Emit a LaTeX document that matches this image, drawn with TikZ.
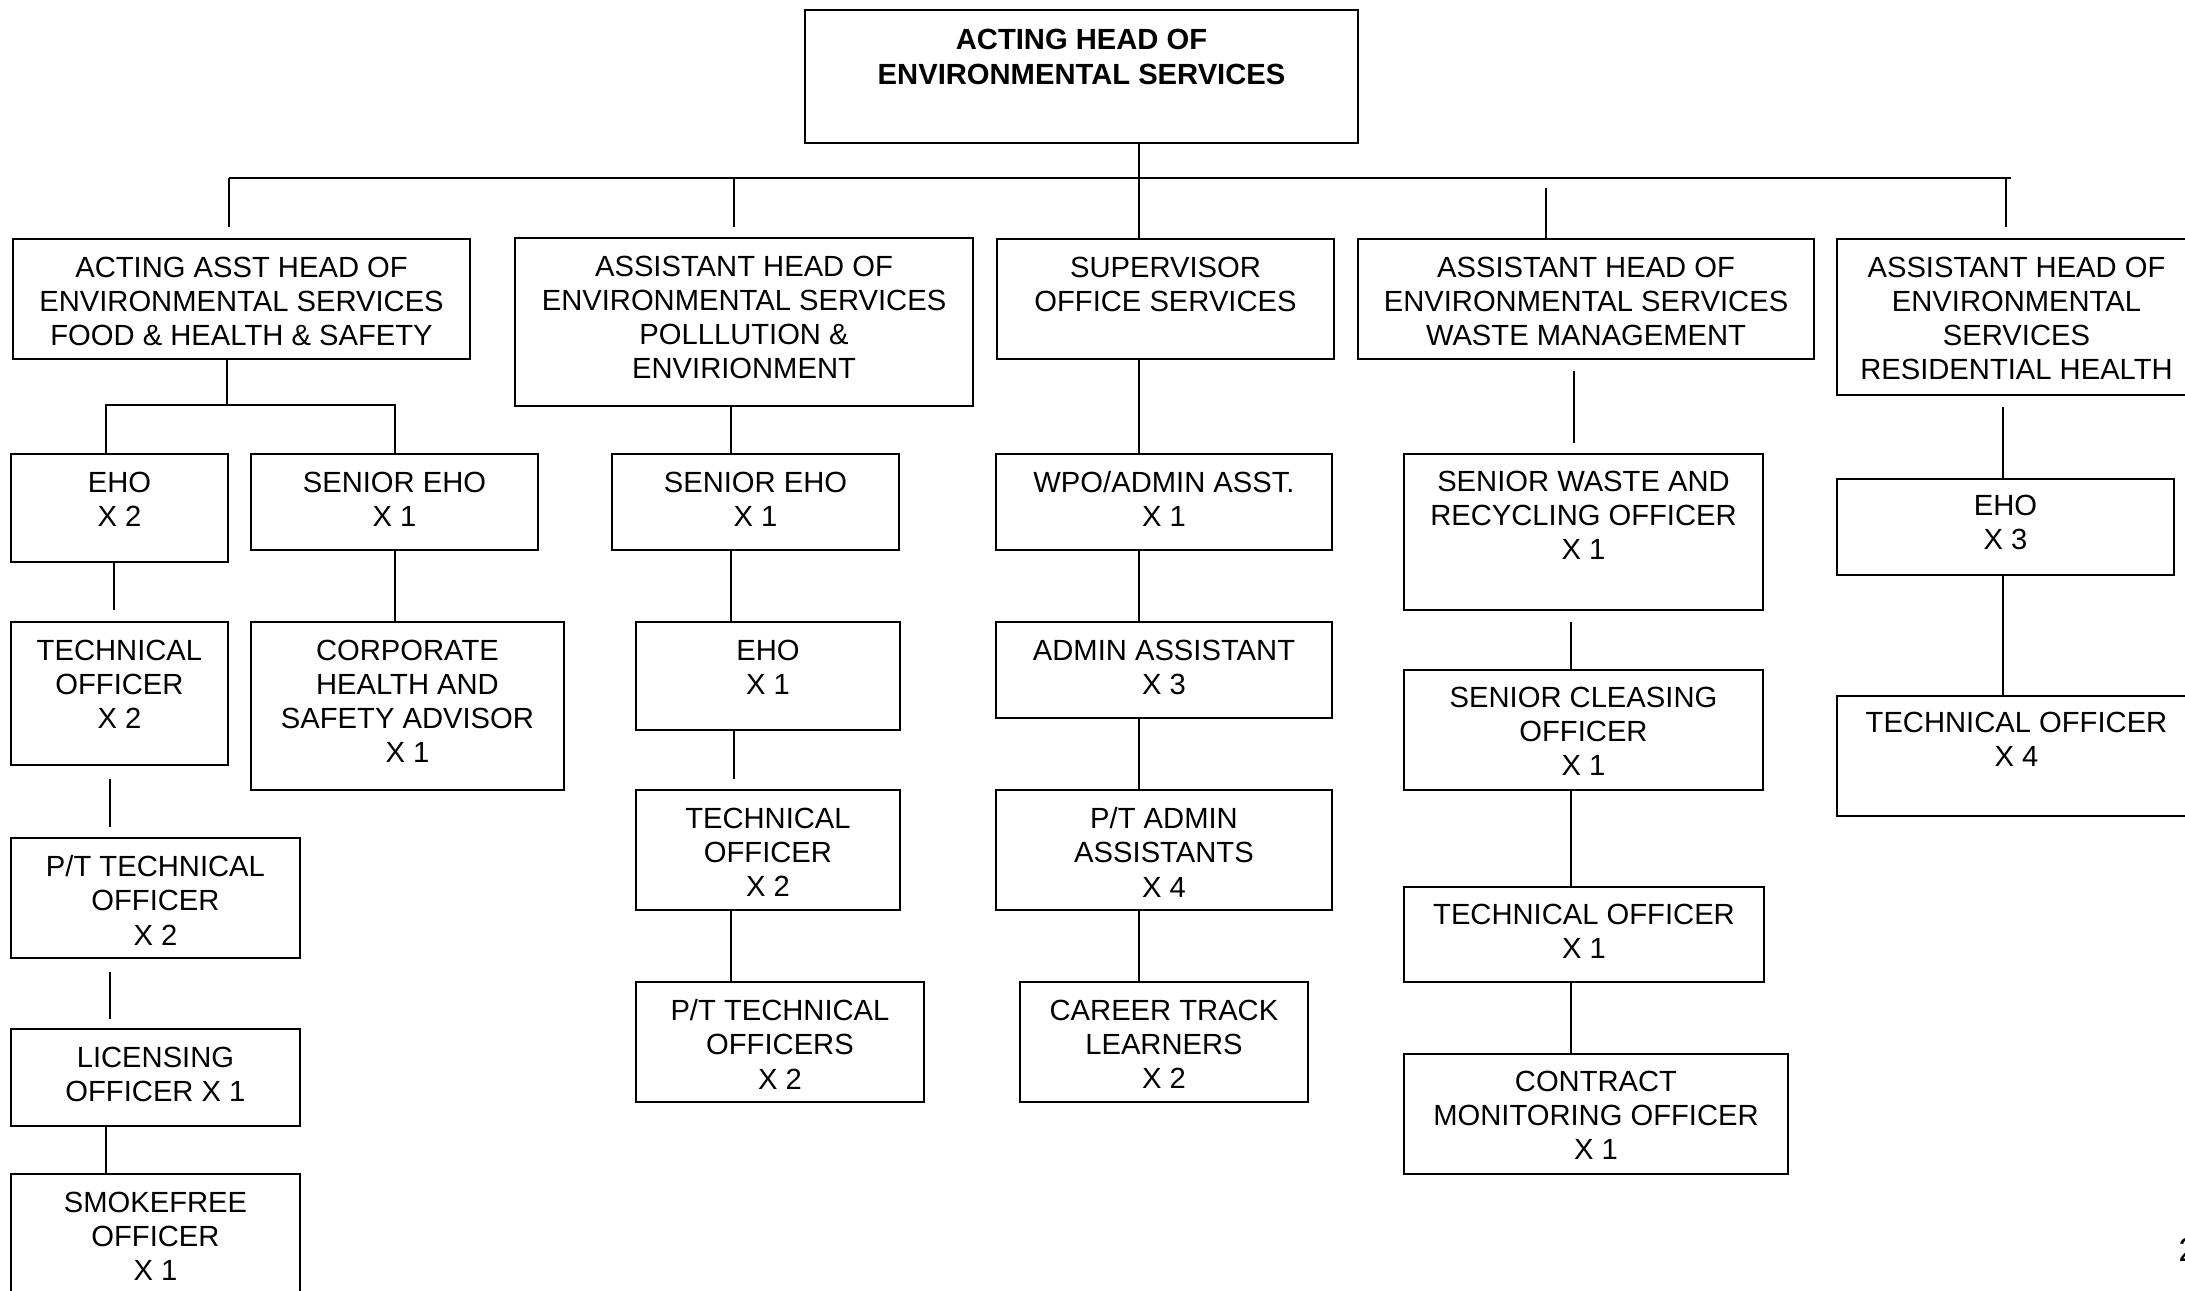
\documentclass[tikz,border=0pt]{standalone}
\usepackage{fontspec}
\setmainfont{Liberation Sans}
\usepackage{xcolor}
\usepackage{tikz}
\usetikzlibrary{positioning}

\begin{document}
\begin{tikzpicture}[x=0.01cm, y=-0.01cm,
    post/.style={draw, rectangle, line width=0.5pt, anchor=north west, inner sep=0pt},
    postname/.style={anchor=north, align=center, inner sep=0pt, font=\fontsize{8.3}{9.7}\selectfont},
    link/.style={line width=0.45pt}]
\useasboundingbox (0,0) rectangle (2185,1290);

% head and the five sections
\node[post, minimum width=5.53cm, minimum height=1.33cm] (top) at (804,9) {};
\node[post, minimum width=4.57cm, minimum height=1.20cm] (a) at (12,238) {};
\node[post, minimum width=4.58cm, minimum height=1.68cm] (b) at (514,237) {};
\node[post, minimum width=3.37cm, minimum height=1.20cm] (c) at (996,238) {};
\node[post, minimum width=4.56cm, minimum height=1.20cm] (d) at (1357,238) {};
\node[post, minimum width=3.59cm, minimum height=1.56cm] (e) at (1836,238) {};

\node[postname, font=\fontsize{8.3}{10}\selectfont\bfseries, below=0.19cm of top.north] (topt) {ACTING HEAD OF\\ENVIRONMENTAL SERVICES};
\node[postname, below=0.18cm of a.north] (at) {ACTING ASST HEAD OF\\ENVIRONMENTAL SERVICES\\FOOD \& HEALTH \& SAFETY};
\node[postname, below=0.18cm of b.north] (bt) {ASSISTANT HEAD OF\\ENVIRONMENTAL SERVICES\\POLLLUTION \&\\ENVIRIONMENT};
\node[postname, below=0.18cm of c.north] (ct) {SUPERVISOR\\OFFICE SERVICES};
\node[postname, below=0.18cm of d.north] (dt) {ASSISTANT HEAD OF\\ENVIRONMENTAL SERVICES\\WASTE MANAGEMENT};
\node[postname, below=0.18cm of e.north] (et) {ASSISTANT HEAD OF\\ENVIRONMENTAL\\SERVICES\\RESIDENTIAL HEALTH};

% food, health and safety
\node[post, minimum width=2.17cm, minimum height=1.08cm] (a1) at (10,453) {};
\node[post, minimum width=2.87cm, minimum height=0.96cm] (a2) at (250,453) {};
\node[post, minimum width=2.17cm, minimum height=1.43cm] (a3) at (10,621) {};
\node[post, minimum width=3.13cm, minimum height=1.68cm] (a4) at (250,621) {};
\node[post, minimum width=2.89cm, minimum height=1.20cm] (a5) at (10,837) {};
\node[post, minimum width=2.89cm, minimum height=0.97cm] (a6) at (10,1028) {};
\node[post, minimum width=2.89cm, minimum height=1.40cm] (a7) at (10,1173) {};

\node[postname, below=0.18cm of a1.north] (a1t) {EHO\\X 2};
\node[postname, below=0.18cm of a2.north] (a2t) {SENIOR EHO\\X 1};
\node[postname, below=0.18cm of a3.north] (a3t) {TECHNICAL\\OFFICER\\X 2};
\node[postname, below=0.18cm of a4.north] (a4t) {CORPORATE\\HEALTH AND\\SAFETY ADVISOR\\X 1};
\node[postname, below=0.18cm of a5.north] (a5t) {P/T TECHNICAL\\OFFICER\\X 2};
\node[postname, below=0.18cm of a6.north] (a6t) {LICENSING\\OFFICER X 1};
\node[postname, below=0.18cm of a7.north] (a7t) {SMOKEFREE\\OFFICER\\X 1};

% pollution and environment
\node[post, minimum width=2.87cm, minimum height=0.96cm] (b1) at (611,453) {};
\node[post, minimum width=2.64cm, minimum height=1.08cm] (b2) at (635,621) {};
\node[post, minimum width=2.64cm, minimum height=1.20cm] (b3) at (635,789) {};
\node[post, minimum width=2.88cm, minimum height=1.20cm] (b4) at (635,981) {};

\node[postname, below=0.18cm of b1.north] (b1t) {SENIOR EHO\\X 1};
\node[postname, below=0.18cm of b2.north] (b2t) {EHO\\X 1};
\node[postname, below=0.18cm of b3.north] (b3t) {TECHNICAL\\OFFICER\\X 2};
\node[postname, below=0.18cm of b4.north] (b4t) {P/T TECHNICAL\\OFFICERS\\X 2};

% office services
\node[post, minimum width=3.36cm, minimum height=0.96cm] (c1) at (995,453) {};
\node[post, minimum width=3.36cm, minimum height=0.96cm] (c2) at (995,621) {};
\node[post, minimum width=3.36cm, minimum height=1.20cm] (c3) at (995,789) {};
\node[post, minimum width=2.88cm, minimum height=1.20cm] (c4) at (1019,981) {};

\node[postname, below=0.18cm of c1.north] (c1t) {WPO/ADMIN ASST.\\X 1};
\node[postname, below=0.18cm of c2.north] (c2t) {ADMIN ASSISTANT\\X 3};
\node[postname, below=0.18cm of c3.north] (c3t) {P/T ADMIN\\ASSISTANTS\\X 4};
\node[postname, below=0.18cm of c4.north] (c4t) {CAREER TRACK\\LEARNERS\\X 2};

% waste management
\node[post, minimum width=3.59cm, minimum height=1.56cm] (d1) at (1403,453) {};
\node[post, minimum width=3.59cm, minimum height=1.20cm] (d2) at (1403,669) {};
\node[post, minimum width=3.60cm, minimum height=0.95cm] (d3) at (1403,886) {};
\node[post, minimum width=3.84cm, minimum height=1.20cm] (d4) at (1403,1053) {};

\node[postname, below=0.17cm of d1.north] (d1t) {SENIOR WASTE AND\\RECYCLING OFFICER\\X 1};
\node[postname, below=0.17cm of d2.north] (d2t) {SENIOR CLEASING\\OFFICER\\X 1};
\node[postname, below=0.17cm of d3.north] (d3t) {TECHNICAL OFFICER\\X 1};
\node[postname, below=0.17cm of d4.north] (d4t) {CONTRACT\\MONITORING OFFICER\\X 1};

% residential health
\node[post, minimum width=3.37cm, minimum height=0.96cm] (e1) at (1836,478) {};
\node[post, minimum width=3.59cm, minimum height=1.20cm] (e2) at (1836,695) {};

\node[postname, below=0.165cm of e1.north] (e1t) {EHO\\X 3};
\node[postname, below=0.165cm of e2.north] (e2t) {TECHNICAL OFFICER\\X 4};

\node[anchor=base west, inner sep=0pt, font=\fontsize{9.5}{11}\selectfont] (pgno) at (2178,1261) {2};

% line positions
\coordinate (busL) at (229,178);
\coordinate (busR) at (2011,178);
\coordinate (busB) at (734,178);
\coordinate (busD) at (1546,178);
\coordinate (busE) at (2006,178);
\coordinate (aBusL) at (106,405);
\coordinate (aBusM) at (227,405);
\coordinate (aBusR) at (395,405);
\coordinate (xa1) at (114,0);
\coordinate (xa2) at (110,0);
\coordinate (xb1) at (731,0);
\coordinate (xb2) at (734,0);
\coordinate (xc) at (1139,0);
\coordinate (xd1) at (1574,0);
\coordinate (xd2) at (1571,0);
\coordinate (xe) at (2003,0);

% connectors
\draw[link] (top.south -| xc) -- (c.north -| xc);
\draw[link] (busL) -- (busR);
\draw[link, shorten >=0.11cm] (busL) -- (busL |- a.north);
\draw[link, shorten >=0.10cm] (busB) -- (busB |- b.north);
\draw[link, shorten <=0.10cm] (busD) -- (busD |- d.north);
\draw[link, shorten >=0.11cm] (busE) -- (busE |- e.north);

\draw[link] (aBusM |- a.south) -- (aBusM);
\draw[link] (aBusL |- a1.north) -- (aBusL) -- (aBusR) -- (aBusR |- a2.north);
\draw[link, shorten >=0.11cm] (a1.south -| xa1) -- (a3.north -| xa1);
\draw[link, shorten <=0.13cm, shorten >=0.10cm] (a3.south -| xa2) -- (a5.north -| xa2);
\draw[link, shorten <=0.13cm, shorten >=0.09cm] (a5.south -| xa2) -- (a6.north -| xa2);
\draw[link] (a6.south -| aBusL) -- (a7.north -| aBusL);
\draw[link] (a2.south -| aBusR) -- (a4.north -| aBusR);

\draw[link] (b.south -| xb1) -- (b1.north -| xb1);
\draw[link] (b1.south -| xb1) -- (b2.north -| xb1);
\draw[link, shorten >=0.10cm] (b2.south -| xb2) -- (b3.north -| xb2);
\draw[link] (b3.south -| xb1) -- (b4.north -| xb1);

\draw[link] (c.south -| xc) -- (c1.north -| xc);
\draw[link] (c1.south -| xc) -- (c2.north -| xc);
\draw[link] (c2.south -| xc) -- (c3.north -| xc);
\draw[link] (c3.south -| xc) -- (c4.north -| xc);

\draw[link, shorten <=0.11cm, shorten >=0.10cm] (d.south -| xd1) -- (d1.north -| xd1);
\draw[link, shorten <=0.115cm] (d1.south -| xd2) -- (d2.north -| xd2);
\draw[link] (d2.south -| xd2) -- (d3.north -| xd2);
\draw[link] (d3.south -| xd2) -- (d4.north -| xd2);

\draw[link, shorten <=0.11cm] (e.south -| xe) -- (e1.north -| xe);
\draw[link] (e1.south -| xe) -- (e2.north -| xe);
\end{tikzpicture}
\end{document}
